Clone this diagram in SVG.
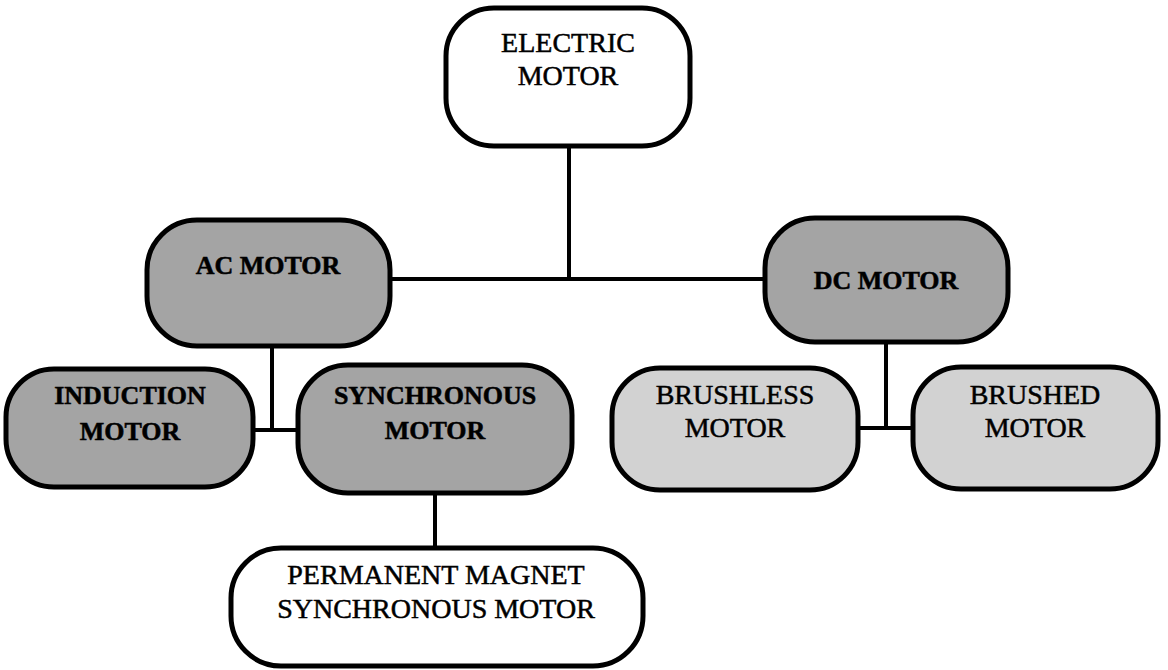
<svg xmlns="http://www.w3.org/2000/svg" width="1168" height="670" viewBox="0 0 1168 670">
  <style>
    .box { stroke: #000; stroke-width: 5; }
    .white { fill: #ffffff; }
    .dark { fill: #a4a4a4; }
    .light { fill: #d2d2d2; }
    .lbl { font-family: "Liberation Serif", "Times New Roman", serif; font-size: 28px; fill: #000; stroke: #000; stroke-width: 0.5; text-anchor: middle; }
    .bold { font-weight: bold; font-size: 26px; }
    .conn { stroke: #000; stroke-width: 4; fill: none; stroke-linecap: butt; }
  </style>
  <rect width="1168" height="670" fill="#ffffff"/>

  <g id="connectors">
    <path class="conn" d="M569,146 V279"/>
    <path class="conn" d="M390,279 H765"/>
    <path class="conn" d="M272,346 V430"/>
    <path class="conn" d="M253,430 H298"/>
    <path class="conn" d="M435,493 V548"/>
    <path class="conn" d="M886,342 V428"/>
    <path class="conn" d="M858,428 H913"/>
  </g>

  <g id="electric-motor">
    <rect class="box white" x="446" y="8" width="244" height="138" rx="48"/>
    <text class="lbl" x="568" y="52">ELECTRIC</text>
    <text class="lbl" x="568" y="85">MOTOR</text>
  </g>

  <g id="ac-motor">
    <rect class="box dark" x="147" y="220" width="243" height="126" rx="50"/>
    <text class="lbl bold" x="268" y="274">AC MOTOR</text>
  </g>

  <g id="dc-motor">
    <rect class="box dark" x="765" y="218" width="243" height="124" rx="50"/>
    <text class="lbl bold" x="886" y="289">DC MOTOR</text>
  </g>

  <g id="induction-motor">
    <rect class="box dark" x="6" y="369" width="247" height="118" rx="48"/>
    <text class="lbl bold" x="130" y="404">INDUCTION</text>
    <text class="lbl bold" x="130" y="440">MOTOR</text>
  </g>

  <g id="synchronous-motor">
    <rect class="box dark" x="298" y="365" width="274" height="128" rx="50"/>
    <text class="lbl bold" x="435" y="404">SYNCHRONOUS</text>
    <text class="lbl bold" x="435" y="439">MOTOR</text>
  </g>

  <g id="pmsm">
    <rect class="box white" x="231" y="548" width="412" height="118" rx="50"/>
    <text class="lbl" x="436" y="584">PERMANENT MAGNET</text>
    <text class="lbl" x="436" y="618">SYNCHRONOUS MOTOR</text>
  </g>

  <g id="brushless-motor">
    <rect class="box light" x="612" y="368" width="246" height="122" rx="48"/>
    <text class="lbl" x="735" y="404">BRUSHLESS</text>
    <text class="lbl" x="735" y="437">MOTOR</text>
  </g>

  <g id="brushed-motor">
    <rect class="box light" x="913" y="367" width="245" height="122" rx="48"/>
    <text class="lbl" x="1035" y="404">BRUSHED</text>
    <text class="lbl" x="1035" y="437">MOTOR</text>
  </g>
</svg>
